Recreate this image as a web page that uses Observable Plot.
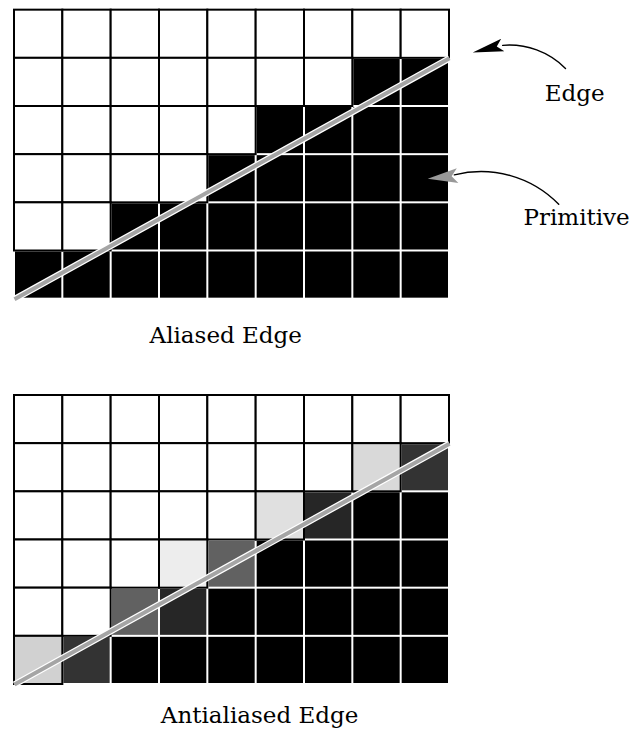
<!DOCTYPE html>
<html>
<head>
<meta charset="utf-8">
<script src="https://cdn.jsdelivr.net/npm/d3@7"></script>
<script src="https://cdn.jsdelivr.net/npm/@observablehq/plot@0.6"></script>
<style>
  html, body { margin: 0; padding: 0; background: #fff; }
  #chart svg { display: block; }
</style>
</head>
<body>
<div id="chart"></div>
<script>
// ---- data ----
const nCols = 9;
const nRows = 6;
// pixel coverage (0 = white, 1 = black), rows listed top to bottom
const aliased = [
  [0, 0, 0, 0, 0, 0, 0, 0, 0],
  [0, 0, 0, 0, 0, 0, 0, 1, 1],
  [0, 0, 0, 0, 0, 1, 1, 1, 1],
  [0, 0, 0, 0, 1, 1, 1, 1, 1],
  [0, 0, 1, 1, 1, 1, 1, 1, 1],
  [1, 1, 1, 1, 1, 1, 1, 1, 1]
];
const antialiased = [
  [0, 0, 0, 0, 0, 0, 0, 0, 0],
  [0, 0, 0, 0, 0, 0, 0, 0.15, 0.8],
  [0, 0, 0, 0, 0, 0.12, 0.85, 1, 1],
  [0, 0, 0, 0.07, 0.62, 1, 1, 1, 1],
  [0, 0, 0.62, 0.85, 1, 1, 1, 1, 1],
  [0.18, 0.8, 1, 1, 1, 1, 1, 1, 1]
];
// ideal edge endpoints (cell units)
const edgeX = [0, 9];
const edgeY = [0, 5];
const titles = ["Aliased Edge", "Antialiased Edge"];
const labels = ["Edge", "Primitive"];

// ---- layout ----
const TOP = 8;      // vertical offset of the aliased grid (in rows)
const BOTTOM = 0;

function cells(grid, off) {
  return grid.flatMap((row, i) => row.map((v, j) => ({
    x1: j, x2: j + 1, y1: off + (nRows - 1 - i), y2: off + (nRows - i), v
  })));
}
const all = [...cells(aliased, TOP), ...cells(antialiased, BOTTOM)];
const light = all.filter(d => d.v < 0.5);
const dark = all.filter(d => d.v >= 0.5);
const edges = [TOP, BOTTOM].flatMap(off => edgeX.map((x, k) => ({ x, y: edgeY[k] + off, off })));

function headSymbol(len, half) {
  return { draw(ctx) { ctx.moveTo(0, 0); ctx.lineTo(-len, -half); ctx.lineTo(-len * 0.8, 0); ctx.lineTo(-len, half); ctx.closePath(); } };
}

const font = "'DejaVu Serif', serif";

const chart = Plot.plot({
  width: 639,
  height: 733,
  margin: 0,
  x: { domain: [0, 9], range: [14, 449], axis: null },
  y: { domain: [0, 6], range: [684, 395], axis: null },
  color: { type: "linear", domain: [0, 1], range: ["#ffffff", "#000000"] },
  marks: [
    Plot.rect(light, { x1: "x1", x2: "x2", y1: "y1", y2: "y2", fill: "v", stroke: "#000", strokeWidth: 2 }),
    Plot.rect(dark, { x1: "x1", x2: "x2", y1: "y1", y2: "y2", fill: "v", inset: 1 }),
    Plot.line(edges, { x: "x", y: "y", z: "off", stroke: "#fff", strokeWidth: 6.5, strokeLinecap: "butt" }),
    Plot.line(edges, { x: "x", y: "y", z: "off", stroke: "#a5a5a5", strokeWidth: 4, strokeLinecap: "butt" }),
    // titles
    Plot.text([titles[0]], { x: 4.37, y: 7.08, text: d => d, fontFamily: font, fontSize: 23, lineAnchor: "bottom", fill: "#000" }),
    Plot.text([titles[1]], { x: 5.07, y: -0.79, text: d => d, fontFamily: font, fontSize: 23, lineAnchor: "bottom", fill: "#000" }),
    // annotation labels
    Plot.text([labels[0]], { x: 11.59, y: 12.12, text: d => d, fontFamily: font, fontSize: 23, lineAnchor: "bottom", fill: "#000" }),
    Plot.text([labels[1]], { x: 11.63, y: 9.53, text: d => d, fontFamily: font, fontSize: 23, lineAnchor: "bottom", fill: "#000" }),
    // annotation arrows
    Plot.arrow([labels[0]], { x1: 11.40, y1: 12.79, x2: 10.10, y2: 13.27, bend: -25, headLength: 0, stroke: "#000", strokeWidth: 1.4 }),
    Plot.arrow([labels[1]], { x1: 11.26, y1: 9.97, x2: 9.10, y2: 10.58, bend: -30, headLength: 0, stroke: "#000", strokeWidth: 1.4 }),
    Plot.dot([labels[0]], { x: 9.48, y: 13.12, symbol: headSymbol(31, 6.5), rotate: 166, fill: "#000", stroke: null }),
    Plot.dot([labels[1]], { x: 8.55, y: 10.50, symbol: headSymbol(30, 7.5), rotate: 174, fill: "#999", stroke: null })
  ]
});
document.getElementById("chart").appendChild(chart);
</script>
</body>
</html>
